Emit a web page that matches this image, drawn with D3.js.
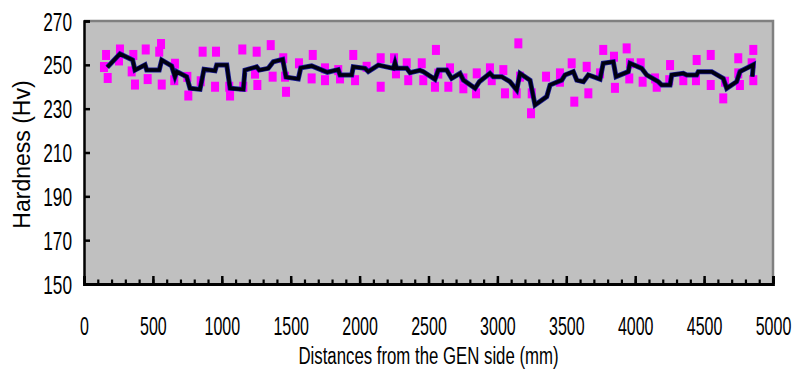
<!DOCTYPE html>
<html>
<head>
<meta charset="utf-8">
<script src="https://cdn.jsdelivr.net/npm/d3@7"></script>
<style>
  html, body { margin: 0; padding: 0; background: #ffffff; }
  svg { display: block; }
  text { font-family: "Liberation Sans", Arial, sans-serif; fill: #000; }
</style>
</head>
<body>
<svg id="chart" width="794" height="370"></svg>
<script>
// ---- Data ----
const yTicks = [150, 170, 190, 210, 230, 250, 270];
const xTicks = [0, 500, 1000, 1500, 2000, 2500, 3000, 3500, 4000, 4500, 5000];

// individual hardness measurements: distance (mm) and hardness (Hv)
const pointDist = [
  145, 160, 172, 254, 261, 346, 358, 370, 448, 462, 546, 559, 564, 655, 660, 750, 757,
  847, 861, 951, 958, 1054, 1060, 1149, 1156, 1241, 1253, 1258, 1355, 1369, 1446, 1459, 1466,
  1560, 1652, 1660, 1749, 1749, 1845, 1858, 1954, 1967, 2051, 2153, 2153, 2250, 2264,
  2342, 2353, 2451, 2462, 2547, 2554, 2571, 2644, 2656, 2753, 2753, 2845, 2850, 2946, 2959,
  3043, 3055, 3140, 3152, 3164, 3244, 3249, 3353, 3454, 3454, 3539, 3558, 3648, 3660,
  3745, 3768, 3846, 3853, 3938, 3957, 3962, 4040, 4054, 4144, 4156, 4247, 4253, 4349,
  4441, 4446, 4548, 4548, 4639, 4652, 4748, 4748, 4760, 4845, 4857, 4857
];
const pointHv = [
  249, 254.5, 244, 252, 257, 247, 254.5, 241, 257, 243.5, 256, 259.5, 241, 243, 250.5, 244.5, 236,
  242.5, 256, 240, 256, 240, 236, 257, 240, 246, 256, 240.8, 259, 244.6, 253, 244.6, 237.7,
  250.7, 243.8, 254.5, 248.4, 243, 247.6, 243.8, 254.5, 243, 249.1, 253, 240, 253, 246.1,
  250.7, 243, 250.7, 243, 240, 256.8, 246, 240, 248.4, 243.8, 239.3, 237, 246.1, 248.4, 243,
  247.6, 237, 237, 259.8, 244.6, 227.9, 237, 244.6, 246.1, 242.3, 250.7, 233.2, 249.1, 237,
  246.1, 256.8, 253.7, 239.5, 257.5, 243.8, 250.7, 250.7, 242.3, 243.8, 240, 243, 249.9, 243,
  243, 252.2, 254.5, 240.8, 234.7, 242.3, 253, 246.1, 240.8, 250.7, 256.8, 243
];

// average line: distance (mm) and hardness (Hv)
const lineDist = [
  169, 261, 353, 370, 443, 455, 546, 564, 636, 660, 673, 745, 769, 842, 871, 951, 963, 1036,
  1060, 1156, 1168, 1253, 1272, 1337, 1374, 1442, 1466, 1555, 1573, 1652, 1766, 1845, 1858,
  1943, 1954, 2039, 2063, 2136, 2245, 2257, 2269, 2342, 2366, 2438, 2462, 2547, 2571, 2632,
  2668, 2729, 2753, 2838, 2869, 2946, 2970, 3031, 3091, 3140, 3164, 3237, 3273, 3358, 3382,
  3467, 3491, 3551, 3576, 3624, 3660, 3745, 3768, 3841, 3861, 3950, 3962, 4047, 4083, 4168,
  4192, 4253, 4265, 4349, 4374, 4446, 4458, 4555, 4639, 4664, 4736, 4760, 4857, 4850
];
const lineHv = [
  248.9, 255, 252.2, 247.6, 250, 247.6, 247.6, 252.2, 249.5, 244.6, 246.9, 244.6, 239.3, 238.8, 248, 247.3, 249.9, 249.9,
  239.3, 238.8, 247.6, 249.1, 247.6, 248.4, 251.4, 252.5, 244.4, 243.6, 248.6, 249.5, 246.6, 247.8, 245.4,
  245.4, 249.1, 248.4, 246.9, 249.9, 248.4, 251, 248.4, 248.4, 246.4, 247.5, 246.9, 243.4, 247.6, 247.6,
  243.8, 246.1, 243, 239.3, 242.3, 246.1, 244.6, 244.6, 242.3, 238.5, 246.1, 243, 231.7, 235.5, 240.8,
  243, 245.4, 246.9, 243, 242.3, 245.4, 243.5, 250.7, 251.4, 244.6, 246.9, 250.7, 248.4, 245.4, 242.3,
  240.8, 240.8, 245.4, 246.1, 245.4, 245.4, 246.9, 246.9, 243.8, 239.3, 242.3, 246.9, 250, 244.6
];

// ---- Layout ----
const svg = d3.select("#chart");
const mLeft = 84, mRight = 773, mTop = 21, mBottom = 284;

const x = d3.scaleLinear().domain([0, 5000]).range([mLeft, mRight]);
const y = d3.scaleLinear().domain([150, 270]).range([mBottom, mTop]);

// plot background
svg.append("rect")
  .attr("x", mLeft).attr("y", mTop)
  .attr("width", mRight - mLeft).attr("height", mBottom - mTop)
  .attr("fill", "#c0c0c0");

// top & right gray border
svg.append("path")
  .attr("d", `M${mLeft},${mTop}H${mRight}V${mBottom}`)
  .attr("fill", "none").attr("stroke", "#808080").attr("stroke-width", 2.5);

// points
const pts = pointDist.map((d, i) => ({ d, v: pointHv[i] }));
svg.append("g").selectAll("rect").data(pts).join("rect")
  .attr("x", p => x(p.d) - 4)
  .attr("y", p => y(p.v) - 5)
  .attr("width", 8).attr("height", 10)
  .attr("fill", "#ff00ff");

// average line
const lineData = lineDist.map((d, i) => ({ d, v: lineHv[i] }));
const line = d3.line().x(p => x(p.d)).y(p => y(p.v));
svg.append("path").datum(lineData)
  .attr("d", line)
  .attr("fill", "none")
  .attr("stroke", "#1a1a9a").attr("stroke-width", 5)
  .attr("stroke-linejoin", "miter");
svg.append("path").datum(lineData)
  .attr("d", line)
  .attr("fill", "none")
  .attr("stroke", "#000010").attr("stroke-width", 3.5)
  .attr("stroke-linejoin", "miter");

// y axis (ticks inside)
const yAxis = d3.axisLeft(y).tickValues(yTicks).tickSize(-6).tickPadding(12).tickFormat(d3.format("d"));
const gy = svg.append("g").attr("transform", `translate(${mLeft},0)`).call(yAxis);
gy.select(".domain").attr("stroke", "#000").attr("stroke-width", 2.5);
gy.selectAll(".tick line").attr("stroke", "#000").attr("stroke-width", 2.5);
gy.selectAll(".tick text")
  .attr("font-size", 25).attr("font-family", "Liberation Sans, Arial, sans-serif")
  .attr("fill", "#000")
  .attr("x", 0)
  .attr("transform", "translate(-12,0) scale(0.69,1)")
  .attr("dy", "0.36em");

// x axis minor ticks (every 100, inside)
const xMinor = d3.range(0, 5001, 100);
const gxm = svg.append("g").attr("transform", `translate(0,${mBottom})`)
  .call(d3.axisBottom(x).tickValues(xMinor).tickSize(-4.5).tickFormat(""));
gxm.select(".domain").remove();
gxm.selectAll(".tick line").attr("stroke", "#000").attr("stroke-width", 2.2);

// x axis major ticks + labels
const xAxis = d3.axisBottom(x).tickValues(xTicks).tickSize(-8).tickPadding(33).tickFormat(d3.format("d"));
const gx = svg.append("g").attr("transform", `translate(0,${mBottom})`).call(xAxis);
gx.select(".domain").attr("stroke", "#000").attr("stroke-width", 2.8);
gx.selectAll(".tick line").attr("stroke", "#000").attr("stroke-width", 2.5);
gx.selectAll(".tick text")
  .attr("font-size", 25).attr("font-family", "Liberation Sans, Arial, sans-serif")
  .attr("fill", "#000")
  .attr("transform", "scale(0.64,1)");

// axis titles
svg.append("text")
  .attr("transform", `translate(${(mLeft + mRight) / 2},364) scale(0.73,1)`)
  .attr("text-anchor", "middle")
  .attr("font-size", 23)
  .text("Distances from the GEN side (mm)");

svg.append("text")
  .attr("transform", `translate(30,${(mTop + mBottom) / 2 + 2}) rotate(-90)`)
  .attr("text-anchor", "middle")
  .attr("font-size", 23)
  .text("Hardness (Hv)");
</script>
</body>
</html>
